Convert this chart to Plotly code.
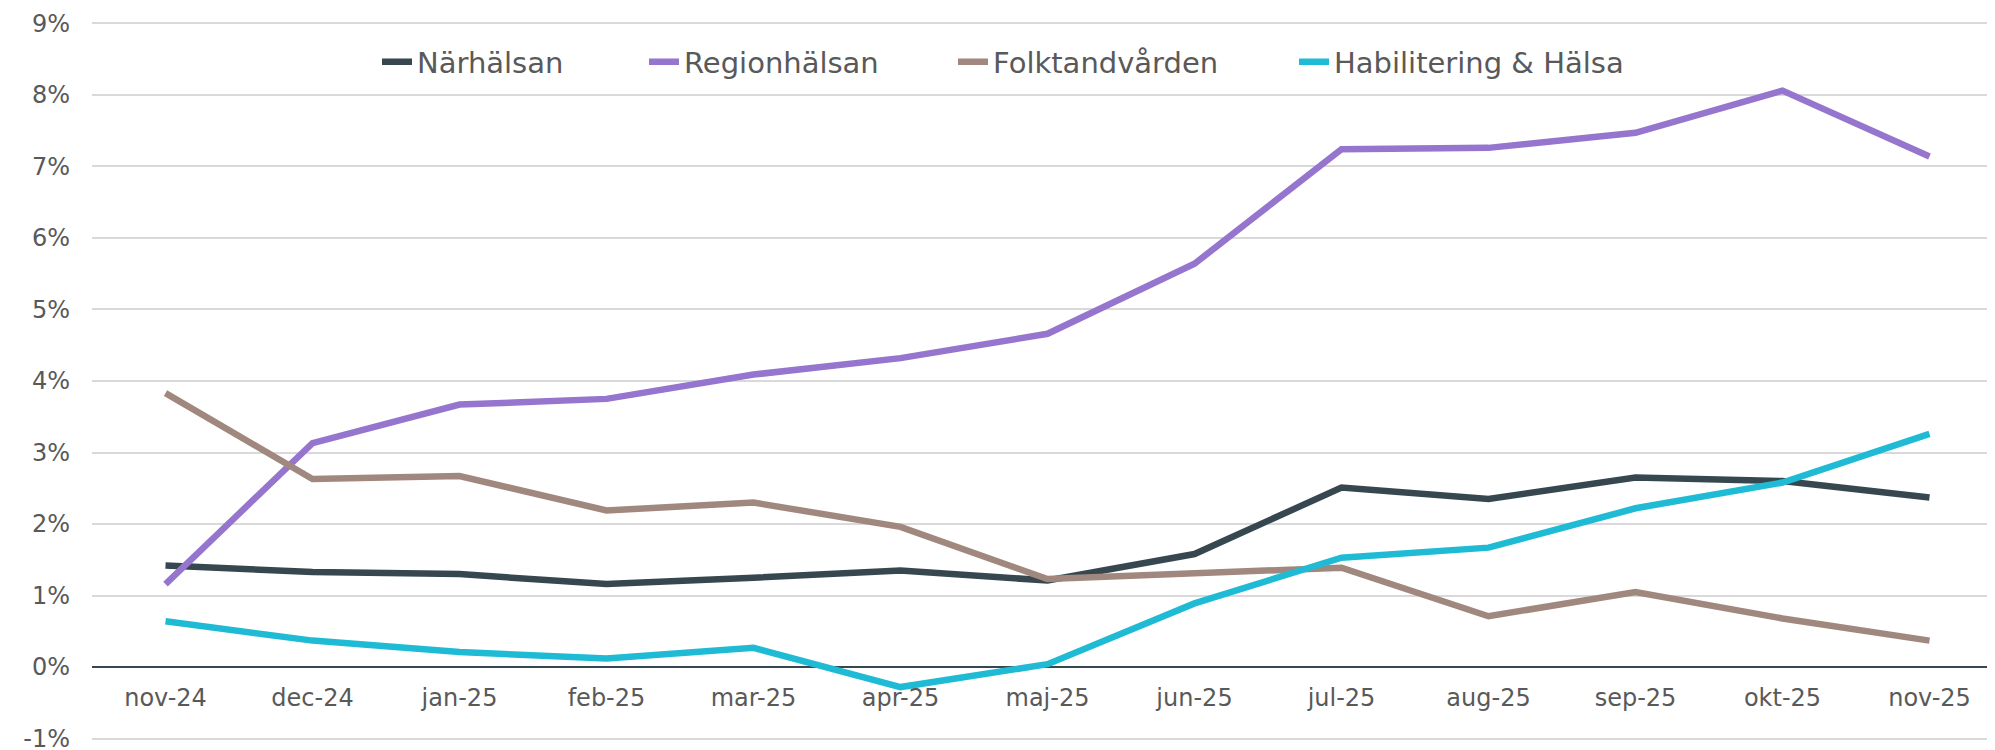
import plotly.graph_objects as go

months = ["nov-24", "dec-24", "jan-25", "feb-25", "mar-25", "apr-25", "maj-25",
          "jun-25", "jul-25", "aug-25", "sep-25", "okt-25", "nov-25"]

narhalsan = [1.42, 1.33, 1.30, 1.16, 1.25, 1.35, 1.21, 1.58, 2.51, 2.35, 2.65, 2.60, 2.37]
regionhalsan = [1.16, 3.13, 3.67, 3.75, 4.09, 4.32, 4.66, 5.64, 7.24, 7.26, 7.47, 8.06, 7.14]
folktandvarden = [3.83, 2.63, 2.67, 2.19, 2.30, 1.96, 1.23, 1.32, 1.39, 0.71, 1.05, 0.68, 0.37]
habilitering = [0.64, 0.37, 0.21, 0.12, 0.27, -0.28, 0.04, 0.89, 1.53, 1.67, 2.22, 2.58, 3.26]

y_ticks = list(range(-1, 10))

series = [
    ("Närhälsan", narhalsan, "#37474F"),
    ("Regionhälsan", regionhalsan, "#9575CD"),
    ("Folktandvården", folktandvarden, "#A1887F"),
    ("Habilitering & Hälsa", habilitering, "#1FBBD5"),
]

# left edge (px) of each legend entry
legend_x = [369, 636, 945, 1286]

font = "DejaVu Sans"
grey = "#595959"

fig = go.Figure()
legend_layouts = {}
for i, (name, vals, color) in enumerate(series):
    key = "legend" if i == 0 else f"legend{i + 1}"
    fig.add_trace(go.Scatter(
        x=list(range(len(months))), y=vals, name=name, mode="lines",
        line=dict(color=color, width=6.5), legend=key,
    ))
    legend_layouts[key] = dict(
        orientation="h", xref="container", x=legend_x[i] / 1995, xanchor="left",
        yref="container", y=1 - 54 / 750, yanchor="middle",
        font=dict(size=29, color=grey, family=font), itemwidth=30,
        bgcolor="rgba(0,0,0,0)",
    )

# pad the range slightly so the -1% and 9% gridlines are drawn
ymin, ymax = -1.02, 9.02

# page body has an 8px margin, so the figure sits 8px right/down
fig.update_layout(
    width=1995, height=750,
    margin=dict(l=84, r=0, t=14, b=18, autoexpand=False),
    plot_bgcolor="white", paper_bgcolor="white",
    font=dict(family=font, color=grey, size=24),
    showlegend=True,
    **legend_layouts,
)

fig.update_xaxes(
    range=[-0.5, 12.5], tickvals=list(range(len(months))), ticktext=months,
    showgrid=False, zeroline=False, showline=False,
    anchor="free", position=-ymin / (ymax - ymin), automargin=False,
    ticks="outside", ticklen=9, tickcolor="rgba(0,0,0,0)",
    tickfont=dict(size=24, color=grey),
)

fig.update_yaxes(
    range=[ymin, ymax], tickvals=y_ticks, ticktext=[f"{v}%" for v in y_ticks],
    showgrid=True, gridcolor="#D9D9D9", gridwidth=2,
    zeroline=True, zerolinecolor="#37474F", zerolinewidth=2,
    automargin=False,
    ticklabelstandoff=21, tickfont=dict(size=24, color=grey),
)

fig.write_html("out.html")
